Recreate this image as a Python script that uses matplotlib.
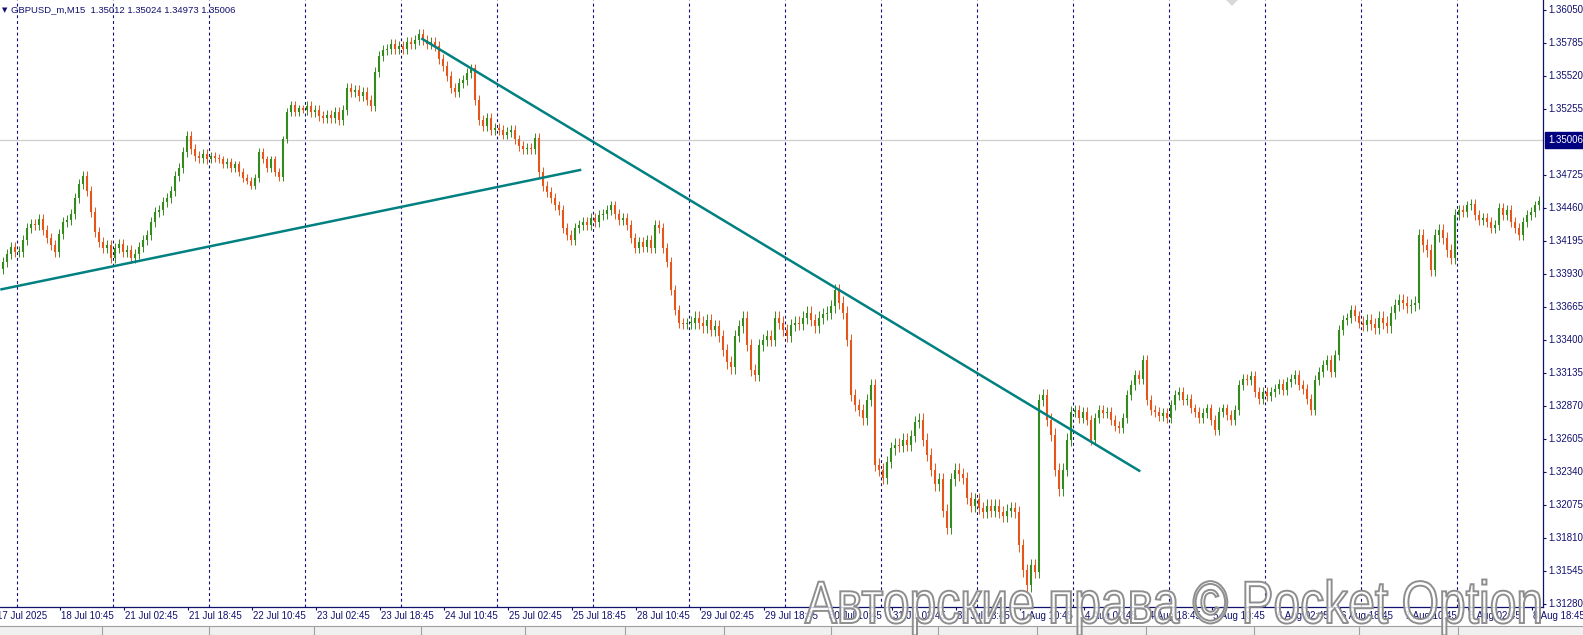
import matplotlib
matplotlib.use("Agg")
import matplotlib.pyplot as plt
from matplotlib.patches import Polygon, Rectangle, PathPatch
from matplotlib.textpath import TextPath
from matplotlib.font_manager import FontProperties
from matplotlib.transforms import Affine2D, blended_transform_factory

# GBPUSD_m M15, hourly closes (weekends skipped)
days = ["17 Jul", "18 Jul", "21 Jul", "22 Jul", "23 Jul", "24 Jul", "25 Jul",
        "28 Jul", "29 Jul", "30 Jul", "31 Jul", "1 Aug", "4 Aug", "5 Aug",
        "6 Aug", "7 Aug", "8 Aug"]
first_hour = [20] + [0] * 16
open_first = 1.3397
# typical wick beyond the hourly body, per day
wick_by_day = [0.0004, 0.0004, 0.0004, 0.0003, 0.0004, 0.0004, 0.0004, 0.0004, 0.0005,
               0.0005, 0.0005, 0.0005, 0.0004, 0.0004, 0.0004, 0.0005, 0.0004]

jul17 = [1.3403, 1.3409, 1.3415, 1.3411]
jul18 = [1.3411, 1.3420, 1.3430, 1.3433, 1.3432, 1.3437, 1.3428, 1.3422, 1.3416, 1.3411, 1.3425, 1.3435,
         1.3436, 1.3441, 1.3454, 1.3465, 1.3472, 1.3460, 1.3443, 1.3427, 1.3419, 1.3414, 1.3416, 1.3406]
jul21 = [1.3414, 1.3417, 1.3411, 1.3412, 1.3406, 1.3409, 1.3415, 1.3420, 1.3424, 1.3435, 1.3443, 1.3444,
         1.3451, 1.3454, 1.3460, 1.3472, 1.3478, 1.3491, 1.3504, 1.3493, 1.3488, 1.3486, 1.3489, 1.3485]
jul22 = [1.3488, 1.3486, 1.3485, 1.3481, 1.3483, 1.3478, 1.3481, 1.3475, 1.3470, 1.3468, 1.3464, 1.3470,
         1.3491, 1.3485, 1.3478, 1.3485, 1.3475, 1.3471, 1.3501, 1.3523, 1.3529, 1.3523, 1.3526, 1.3525]
jul23 = [1.3528, 1.3523, 1.3525, 1.3520, 1.3518, 1.3521, 1.3518, 1.3523, 1.3517, 1.3525, 1.3542, 1.3539,
         1.3541, 1.3536, 1.3539, 1.3533, 1.3528, 1.3555, 1.3568, 1.3573, 1.3574, 1.3578, 1.3574, 1.3576]
jul24 = [1.3574, 1.3579, 1.3578, 1.3581, 1.3586, 1.3581, 1.3578, 1.3579, 1.3576, 1.3566, 1.3560, 1.3552,
         1.3542, 1.3539, 1.3546, 1.3549, 1.3554, 1.3558, 1.3533, 1.3517, 1.3512, 1.3518, 1.3509, 1.3510]
jul25 = [1.3509, 1.3505, 1.3507, 1.3509, 1.3501, 1.3496, 1.3493, 1.3494, 1.3493, 1.3502, 1.3475, 1.3464,
         1.3459, 1.3454, 1.3448, 1.3444, 1.3430, 1.3424, 1.3420, 1.3430, 1.3432, 1.3435, 1.3432, 1.3438]
jul28 = [1.3435, 1.3440, 1.3441, 1.3444, 1.3448, 1.3441, 1.3436, 1.3438, 1.3432, 1.3422, 1.3414, 1.3419,
         1.3415, 1.3420, 1.3414, 1.3432, 1.3430, 1.3414, 1.3403, 1.3380, 1.3364, 1.3354, 1.3353, 1.3354]
jul29 = [1.3354, 1.3358, 1.3354, 1.3351, 1.3356, 1.3348, 1.3351, 1.3343, 1.3332, 1.3322, 1.3318, 1.3343,
         1.3351, 1.3358, 1.3336, 1.3316, 1.3312, 1.3336, 1.3340, 1.3343, 1.3340, 1.3358, 1.3354, 1.3348]
jul30 = [1.3343, 1.3352, 1.3354, 1.3353, 1.3358, 1.3362, 1.3356, 1.3351, 1.3358, 1.3361, 1.3362, 1.3367,
         1.3380, 1.3370, 1.3362, 1.3340, 1.3296, 1.3288, 1.3284, 1.3277, 1.3292, 1.3304, 1.3240, 1.3236]
jul31 = [1.3229, 1.3242, 1.3253, 1.3256, 1.3255, 1.3260, 1.3256, 1.3263, 1.3274, 1.3276, 1.3260, 1.3248,
         1.3236, 1.3224, 1.3228, 1.3203, 1.3189, 1.3228, 1.3236, 1.3232, 1.3229, 1.3213, 1.3207, 1.3212]
aug01 = [1.3205, 1.3202, 1.3207, 1.3203, 1.3207, 1.3202, 1.3199, 1.3203, 1.3205, 1.3202, 1.3175, 1.3155,
         1.3143, 1.3159, 1.3154, 1.3292, 1.3296, 1.3276, 1.3264, 1.3236, 1.3220, 1.3236, 1.3260, 1.3282]
aug04 = [1.3284, 1.3277, 1.3282, 1.3276, 1.3260, 1.3277, 1.3284, 1.3281, 1.3282, 1.3276, 1.3271, 1.3269,
         1.3277, 1.3296, 1.3304, 1.3312, 1.3309, 1.3324, 1.3292, 1.3284, 1.3282, 1.3279, 1.3281, 1.3277]
aug05 = [1.3288, 1.3296, 1.3298, 1.3292, 1.3293, 1.3285, 1.3282, 1.3277, 1.3281, 1.3285, 1.3276, 1.3268,
         1.3282, 1.3285, 1.3280, 1.3276, 1.3284, 1.3304, 1.3309, 1.3308, 1.3311, 1.3298, 1.3293, 1.3298]
aug06 = [1.3295, 1.3298, 1.3301, 1.3305, 1.3300, 1.3306, 1.3309, 1.3312, 1.3304, 1.3301, 1.3293, 1.3284,
         1.3308, 1.3314, 1.3320, 1.3324, 1.3314, 1.3328, 1.3348, 1.3356, 1.3358, 1.3364, 1.3359, 1.3354]
aug07 = [1.3352, 1.3356, 1.3353, 1.3350, 1.3358, 1.3354, 1.3351, 1.3362, 1.3368, 1.3372, 1.3370, 1.3367,
         1.3368, 1.3370, 1.3424, 1.3416, 1.3412, 1.3396, 1.3424, 1.3428, 1.3422, 1.3412, 1.3406, 1.3440]
aug08 = [1.3444, 1.3443, 1.3448, 1.3449, 1.3440, 1.3436, 1.3438, 1.3435, 1.3430, 1.3432, 1.3446, 1.3440,
         1.3444, 1.3435, 1.3430, 1.3424, 1.3435, 1.3440, 1.3443, 1.3448, 1.3452]
closes_by_day = [jul17, jul18, jul21, jul22, jul23, jul24, jul25, jul28, jul29, jul30,
                 jul31, aug01, aug04, aug05, aug06, aug07, aug08]

# trend lines: (time, price) anchors
trend_up = [("17 Jul 19:45", 1.33805), ("25 Jul 21:00", 1.34767)]
trend_down = [("24 Jul 05:00", 1.35822), ("4 Aug 16:45", 1.32345)]

tick_times = ["17 Jul 18:45", "18 Jul 10:45", "21 Jul 02:45", "21 Jul 18:45", "22 Jul 10:45",
              "23 Jul 02:45", "23 Jul 18:45", "24 Jul 10:45", "25 Jul 02:45", "25 Jul 18:45",
              "28 Jul 10:45", "29 Jul 02:45", "29 Jul 18:45", "30 Jul 10:45", "31 Jul 02:45",
              "31 Jul 18:45", "1 Aug 10:45", "4 Aug 02:45", "4 Aug 18:45", "5 Aug 10:45",
              "6 Aug 02:45", "6 Aug 18:45", "7 Aug 10:45", "8 Aug 02:45", "8 Aug 18:45"]
tick_text = ["17 Jul 2025"] + tick_times[1:]

price_ticks = [1.36050, 1.35785, 1.35520, 1.35255, 1.34725, 1.34460, 1.34195, 1.33930,
               1.33665, 1.33400, 1.33135, 1.32870, 1.32605, 1.32340, 1.32075, 1.31810,
               1.31545, 1.31280]
bid = 1.35006
header = "GBPUSD_m,M15  1.35012 1.35024 1.34973 1.35006"
watermark = "Авторские права © Pocket Option"

NAVY = "#10106e"
UP = "#358a1e"
DOWN = "#e6561a"
TEAL = "#008080"


def bar_of(stamp):
    # position in M15 bars, counted from 18 Jul 00:00
    d, m, hm = stamp.split()
    hh, mm = hm.split(":")
    k = days.index(d + " " + m) - 1
    return 96 * k + int(hh) * 4 + int(mm) / 15


W, H = 1583, 635
fig = plt.figure(figsize=(W / 100, H / 100), dpi=100)
ax = fig.add_axes([0, 28 / H, 1543 / W, 607 / H])
ax.set_xlim(-17.3, 1543 - 17.3)
ax.set_ylim(1.31256, 1.36130)

# day separators
for d in days[1:]:
    ax.axvline(bar_of(d + " 00:00"), color=NAVY, lw=0.8, ls=(0, (2.6, 2.6)), zorder=1)
ax.axhline(bid, color="#cfcfcf", lw=0.9, zorder=1)

# hourly candles, open = previous close
xs, lo, hi, wlo, whi, cols = [], [], [], [], [], []
prev = open_first
for d, h0, closes, wk in zip(days, first_hour, closes_by_day, wick_by_day):
    for j, c in enumerate(closes):
        a, b = min(prev, c), max(prev, c)
        if b - a < 0.00008:
            a, b = a - 0.00004, b + 0.00004
        xs.append(bar_of(f"{d} {h0 + j:02d}:00") + 2)
        lo.append(a)
        hi.append(b)
        wlo.append(a - wk)
        whi.append(b + wk)
        cols.append(UP if c >= prev else DOWN)
        prev = c
ax.vlines(xs, wlo, whi, colors=cols, lw=0.7, zorder=3)
ax.vlines(xs, lo, hi, colors=cols, lw=1.5, zorder=3)

for line in (trend_up, trend_down):
    ax.plot([bar_of(t) for t, _ in line], [p for _, p in line], color=TEAL, lw=1.8,
            solid_capstyle="butt", zorder=4)

for s in ("top", "left"):
    ax.spines[s].set_visible(False)
for s in ("bottom", "right"):
    ax.spines[s].set_color(NAVY)
    ax.spines[s].set_linewidth(0.9)

ax.yaxis.tick_right()
ax.set_yticks(price_ticks)
ax.set_yticklabels([])
inside = [bar_of(t) for t in tick_times if bar_of(t) >= -17.3]
ax.set_xticks(inside)
ax.set_xticklabels([])
ax.tick_params(axis="both", direction="out", length=2.4, width=0.8, color=NAVY)

tfont = dict(family="Liberation Sans", fontsize=7, color=NAVY)
xtrans = blended_transform_factory(ax.transData, ax.transAxes)
for t, s in zip(tick_times, tick_text):
    ax.annotate(s, xy=(bar_of(t), 0), xycoords=xtrans, xytext=(1, -9),
                textcoords="offset pixels", ha="left", va="center",
                annotation_clip=False, **tfont)
for p in price_ticks:
    ax.annotate(f"{p:.5f}", xy=(1, p), xycoords=("axes fraction", "data"),
                xytext=(5, 0), textcoords="offset pixels", ha="left", va="center",
                annotation_clip=False, **tfont)
ax.annotate(f"{bid:.5f}", xy=(1, bid), xycoords=("axes fraction", "data"),
            xytext=(5, 0), textcoords="offset pixels", ha="left", va="center",
            annotation_clip=False, family="Liberation Sans", fontsize=7, color="white",
            bbox=dict(boxstyle="square,pad=0.3", fc="#000080", ec="#000080"))

# header
fig.text(2 / W, 1 - 10 / H, "▼", fontsize=5, color=NAVY, va="center", family="DejaVu Sans")
fig.text(11 / W, 1 - 10 / H, header, va="center", family="Liberation Sans",
         fontsize=6.8, color=NAVY)

# chart shift marker at the top
fig.patches.append(Polygon([(1226 / W, 1), (1238 / W, 1), (1232 / W, 1 - 6 / H)],
                           closed=True, transform=fig.transFigure, fc="#d8d8d8", ec="none"))

# tab bar strip at the bottom
fig.patches.append(Rectangle((0, 0), 1, 9 / H, transform=fig.transFigure,
                             fc="#f0f0f0", ec="none", zorder=0))
fig.add_artist(plt.Line2D([0, 1], [9 / H, 9 / H], transform=fig.transFigure,
                          color="#a0a0a0", lw=0.8))
for sx in (102, 209, 314, 421, 525, 625, 724, 831, 938, 1037, 1146, 1254, 1359, 1458):
    fig.add_artist(plt.Line2D([sx / W, sx / W], [0, 9 / H], transform=fig.transFigure,
                              color="#a0a0a0", lw=0.8))

# watermark, outlined and squeezed to its width on the screenshot
tp = TextPath((0, 0), watermark, size=60, prop=FontProperties(family="Liberation Sans"))
bb = tp.get_extents()
sx = 735 / bb.width
wm_tr = Affine2D().scale(sx, 1).translate(805 - bb.x0 * sx, 12)
wm = PathPatch(tp, transform=wm_tr, fc=(1, 1, 1, 0.8), ec="#8e8e8e", lw=1.4, zorder=10)
fig.add_artist(wm)

fig.savefig("out.png", dpi=100, facecolor="white")
